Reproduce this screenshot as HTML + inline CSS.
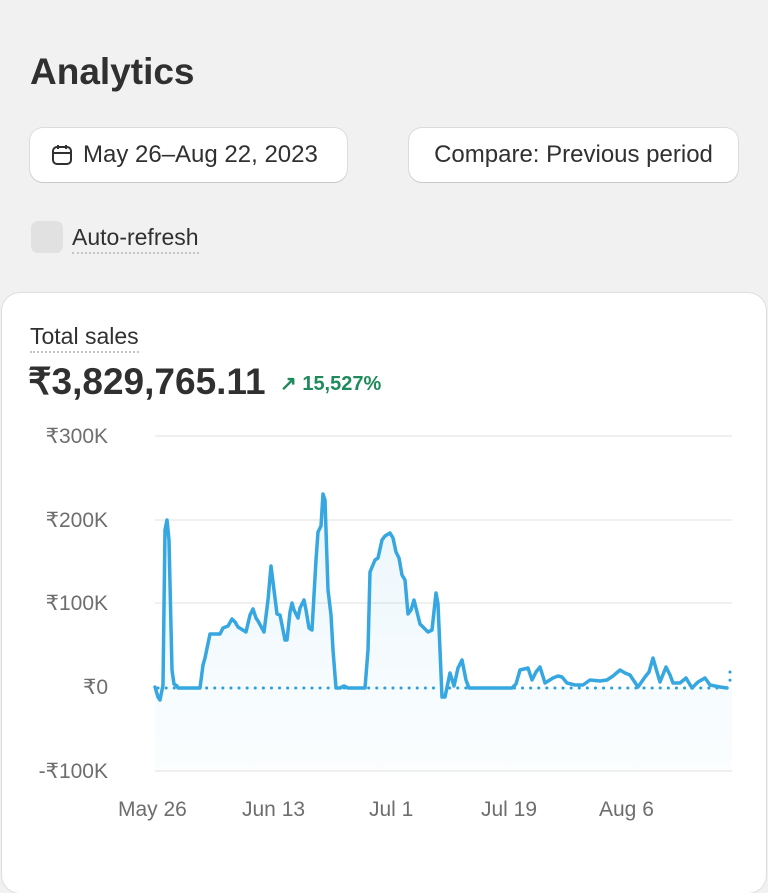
<!DOCTYPE html>
<html><head><meta charset="utf-8"><style>
body{margin:0;width:768px;height:846px;background:#f1f1f1;font-family:"Liberation Sans",sans-serif;position:relative;overflow:hidden;color:#303030}
.t{position:absolute;white-space:nowrap}
.btn{position:absolute;background:#fff;border-radius:13px;box-shadow:0 1px 0 #c9c9c9,0 0 0 1px #dcdcdc;height:54px;top:128px;font-size:24px;line-height:54px;color:#303030}
.card{position:absolute;left:2px;top:293px;width:764px;height:600px;background:#fff;border-radius:18px;box-shadow:0 0 0 1px #dedede}
.yl{position:absolute;font-size:21px;color:#6e6e6e;text-align:right}
.xl{position:absolute;top:798px;font-size:21px;color:#6e6e6e}
</style></head><body>
<div class="t" style="left:30px;top:51px;font-size:37px;font-weight:bold;color:#303030">Analytics</div>
<div class="btn" style="left:30px;width:317px">
<svg style="position:absolute;left:20px;top:15px" width="24" height="24" viewBox="0 0 24 24"><rect x="3" y="4" width="18" height="17" rx="4" fill="none" stroke="#303030" stroke-width="2"/><line x1="3" y1="10" x2="21" y2="10" stroke="#303030" stroke-width="2"/><line x1="8" y1="2" x2="8" y2="6" stroke="#303030" stroke-width="2"/><line x1="16" y1="2" x2="16" y2="6" stroke="#303030" stroke-width="2"/></svg>
<span style="position:absolute;left:53px">May 26–Aug 22, 2023</span></div>
<div class="btn" style="left:409px;width:329px;text-align:center">Compare: Previous period</div>
<div style="position:absolute;left:31px;top:221px;width:32px;height:32px;border-radius:7px;background:#e1e1e1"></div>
<div class="t" style="left:72px;top:224px;font-size:23px;border-bottom:2px dotted #c4c4c4;padding-bottom:1px">Auto-refresh</div>
<div class="card"></div>
<div class="t" style="left:30px;top:323px;font-size:23px;border-bottom:2px dotted #c4c4c4;padding-bottom:1px">Total sales</div>
<div class="t" style="left:28px;top:360px;font-size:37px;font-weight:bold;color:#303030">₹3,829,765.11</div>
<div class="t" style="left:280px;top:371px;font-size:20px;font-weight:bold;color:#1f8a5b">↗ 15,527%</div>
<div class="yl" style="top:424px;left:20px;width:88px">₹300K</div>
<div class="yl" style="top:508px;left:20px;width:88px">₹200K</div>
<div class="yl" style="top:591px;left:20px;width:88px">₹100K</div>
<div class="yl" style="top:675px;left:20px;width:88px">₹0</div>
<div class="yl" style="top:759px;left:10px;width:98px">-₹100K</div>
<div class="xl" style="left:118px">May 26</div>
<div class="xl" style="left:242px">Jun 13</div>
<div class="xl" style="left:369px">Jul 1</div>
<div class="xl" style="left:481px">Jul 19</div>
<div class="xl" style="left:599px">Aug 6</div>
<svg style="position:absolute;left:0;top:0" width="768" height="846">
<defs><linearGradient id="g" x1="0" y1="0" x2="0" y2="1"><stop offset="0" stop-color="#3aa8e0" stop-opacity="0.10"/><stop offset="1" stop-color="#3aa8e0" stop-opacity="0.02"/></linearGradient></defs>
<g stroke="#ececec" stroke-width="1.5"><line x1="155" y1="436" x2="732" y2="436"/><line x1="155" y1="520" x2="732" y2="520"/><line x1="155" y1="603" x2="732" y2="603"/><line x1="155" y1="771" x2="732" y2="771"/></g>
<line x1="158" y1="688" x2="732" y2="688" stroke="#2f9fd8" stroke-width="3" stroke-dasharray="0.1 8" stroke-linecap="round"/>
<line x1="730" y1="672" x2="730" y2="688" stroke="#2f9fd8" stroke-width="3" stroke-dasharray="0.1 8" stroke-linecap="round"/>
<polygon fill="url(#g)" points="155,687 158,697 160,700 163,685 165,530 167,520 169,540 172,670 174,684 177,686 178,688 200,688 203,665 205,658 210,634 220,634 223,628 228,626 232,619 235,622 238,627 246,632 250,615 253,609 256,618 258,621 264,632 268,600 271,566 274,590 277,614 280,615 285,640 287,640 290,612 292,603 294,610 298,618 300,608 304,600 306,610 309,628 312,630 316,560 318,532 321,526 323,494 325,500 328,590 331,615 333,650 336,688 365,688 368,650 370,572 375,560 378,558 382,540 385,536 390,533 393,538 396,552 399,558 402,575 405,580 408,614 411,610 414,600 417,612 420,624 428,632 432,630 436,593 438,604 440,650 442,697 445,697 450,673 454,686 458,668 462,660 466,680 469,688 732,688 732,771 155,771"/>
<polyline fill="none" stroke="#36a7e0" stroke-width="3.5" stroke-linejoin="round" stroke-linecap="round" points="155,687 158,697 160,700 163,685 165,530 167,520 169,540 172,670 174,684 177,686 178,688 200,688 203,665 205,658 210,634 220,634 223,628 228,626 232,619 235,622 238,627 246,632 250,615 253,609 256,618 258,621 264,632 268,600 271,566 274,590 277,614 280,615 285,640 287,640 290,612 292,603 294,610 298,618 300,608 304,600 306,610 309,628 312,630 316,560 318,532 321,526 323,494 325,500 328,590 331,615 333,650 336,688 340,688 344,686 348,688 365,688 368,650 370,572 375,560 378,558 382,540 385,536 390,533 393,538 396,552 399,558 402,575 405,580 408,614 411,610 414,600 417,612 420,624 428,632 432,630 436,593 438,604 440,650 442,697 445,697 450,673 454,686 458,668 462,660 466,680 469,688 512,688 516,684 520,670 528,668 532,680 536,672 540,667 545,683 553,678 558,676 562,677 567,683 575,685 583,685 590,680 600,681 607,680 613,676 620,670 625,673 630,675 638,687 645,677 649,672 653,658 657,672 660,682 666,667 670,675 673,683 680,683 686,678 692,688 698,682 705,678 710,685 720,687 727,688"/>
</svg>
</body></html>
